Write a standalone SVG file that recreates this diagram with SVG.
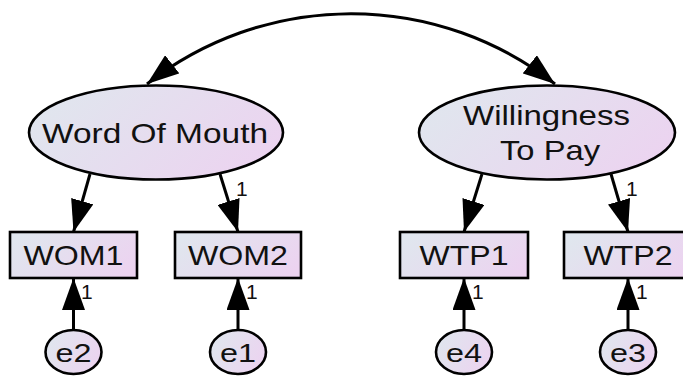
<svg xmlns="http://www.w3.org/2000/svg" width="683" height="376" viewBox="0 0 683 376">
  <defs>
    <linearGradient id="fillGrad" x1="0" y1="0.3" x2="1" y2="0.7">
      <stop offset="0" stop-color="#e0e6ee"/>
      <stop offset="1" stop-color="#ecd3f0"/>
    </linearGradient>
    <marker id="head" viewBox="0 0 32 23" refX="32" refY="11.5" markerWidth="32" markerHeight="23" markerUnits="userSpaceOnUse" orient="auto-start-reverse">
      <path d="M0,0 L32,11.5 L0,23 Z" fill="#000"/>
    </marker>
    <style>
      .shape { fill: url(#fillGrad); stroke: #000; stroke-width: 2.6; }
      .conn { fill: none; stroke: #000; stroke-width: 3; marker-end: url(#head); }
      .label { font-family: "Liberation Sans", Arial, sans-serif; fill: #111; text-anchor: middle; }
      .big { font-size: 28px; }
      .err { font-size: 26px; }
      .wt { font-family: "Liberation Sans", Arial, sans-serif; font-size: 21px; fill: #111; }
    </style>
  </defs>

  <!-- connectors: covariance arc, loadings, error paths and their fixed weights -->
  <g id="connectors">
    <path class="conn" d="M147,84 A331,331 0 0 1 555,84" marker-start="url(#head)"/>
    <path class="conn" d="M90,174 L73.5,232"/>
    <path class="conn" d="M220,174 L238,232"/>
    <path class="conn" d="M482,174 L464,232"/>
    <path class="conn" d="M611,174 L628,232"/>
    <path class="conn" d="M73.5,330 L73.5,278"/>
    <path class="conn" d="M238,330 L238,278"/>
    <path class="conn" d="M464,330 L464,278"/>
    <path class="conn" d="M628,330 L628,278"/>
    <text class="wt" x="236" y="196">1</text>
    <text class="wt" x="626" y="196">1</text>
    <text class="wt" x="81" y="299">1</text>
    <text class="wt" x="246" y="299">1</text>
    <text class="wt" x="472" y="299">1</text>
    <text class="wt" x="636" y="299">1</text>
  </g>

  <!-- latent variables -->
  <g id="WOM">
    <ellipse class="shape" cx="156" cy="132.5" rx="127" ry="47"/>
    <text class="label big" x="155" y="143" textLength="226" lengthAdjust="spacingAndGlyphs">Word Of Mouth</text>
  </g>
  <g id="WTP">
    <ellipse class="shape" cx="547" cy="132.5" rx="128" ry="47"/>
    <text class="label big" x="546.5" y="125" textLength="167" lengthAdjust="spacingAndGlyphs">Willingness</text>
    <text class="label big" x="550" y="160" textLength="100" lengthAdjust="spacingAndGlyphs">To Pay</text>
  </g>

  <!-- observed variables -->
  <g id="WOM1">
    <rect class="shape" x="10" y="232" width="127" height="46"/>
    <text class="label big" x="73.5" y="265" textLength="100" lengthAdjust="spacingAndGlyphs">WOM1</text>
  </g>
  <g id="WOM2">
    <rect class="shape" x="175" y="232" width="126" height="46"/>
    <text class="label big" x="238" y="265" textLength="100" lengthAdjust="spacingAndGlyphs">WOM2</text>
  </g>
  <g id="WTP1">
    <rect class="shape" x="400" y="232" width="128" height="46"/>
    <text class="label big" x="464" y="265" textLength="89" lengthAdjust="spacingAndGlyphs">WTP1</text>
  </g>
  <g id="WTP2">
    <rect class="shape" x="564" y="232" width="128" height="46"/>
    <text class="label big" x="628" y="265" textLength="89" lengthAdjust="spacingAndGlyphs">WTP2</text>
  </g>

  <!-- error terms -->
  <g id="e2">
    <ellipse class="shape" cx="73.5" cy="352" rx="28" ry="22"/>
    <text class="label err" x="73.5" y="362" textLength="36" lengthAdjust="spacingAndGlyphs">e2</text>
  </g>
  <g id="e1">
    <ellipse class="shape" cx="238" cy="352" rx="28" ry="22"/>
    <text class="label err" x="238" y="362" textLength="36" lengthAdjust="spacingAndGlyphs">e1</text>
  </g>
  <g id="e4">
    <ellipse class="shape" cx="464" cy="352" rx="28" ry="22"/>
    <text class="label err" x="464" y="362" textLength="36" lengthAdjust="spacingAndGlyphs">e4</text>
  </g>
  <g id="e3">
    <ellipse class="shape" cx="628" cy="352" rx="28" ry="22"/>
    <text class="label err" x="628" y="362" textLength="36" lengthAdjust="spacingAndGlyphs">e3</text>
  </g>
</svg>
